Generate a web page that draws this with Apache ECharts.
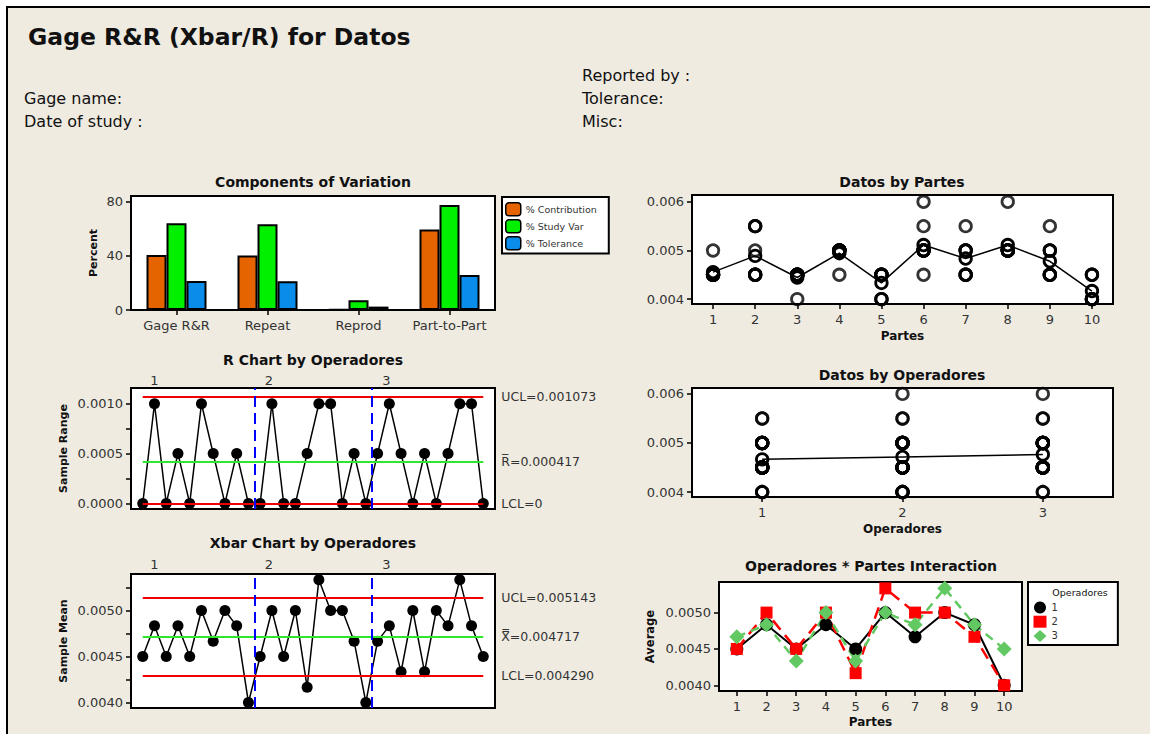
<!DOCTYPE html>
<html><head><meta charset="utf-8">
<script src="https://cdn.jsdelivr.net/npm/echarts@6/dist/echarts.min.js"></script>
<style>html,body{margin:0;padding:0;background:#EFEBE1;overflow:hidden;}#c{width:1170px;height:734px;}</style>
</head><body><div id="c"></div>
<script>
// ---------- data ----------
const componentNames = ['Gage R&R', 'Repeat', 'Reprod', 'Part-to-Part'];
const pctContribution = [40.6, 40.1, 0.5, 59.4];
const pctStudyVar = [64.0, 63.2, 7.1, 77.3];
const pctTolerance = [21.3, 21.1, 2.5, 25.7];
const percentTicks = [0, 40, 80];

const partLabels = ['1', '2', '3', '4', '5', '6', '7', '8', '9', '10'];
const operatorLabels = ['1', '2', '3'];

// three trials per part, for each operator
const op1Trials = [
  [0.0045, 0.0045, 0.0045], [0.0045, 0.0045, 0.0055], [0.0045, 0.0045, 0.0045], [0.0045, 0.005, 0.005],
  [0.0045, 0.0045, 0.0045], [0.0045, 0.005, 0.0055], [0.0045, 0.0045, 0.005], [0.005, 0.005, 0.005],
  [0.0045, 0.005, 0.005], [0.004, 0.004, 0.004]
];
const op2Trials = [
  [0.0045, 0.0045, 0.0045], [0.0045, 0.005, 0.0055], [0.0045, 0.0045, 0.0045], [0.005, 0.005, 0.005],
  [0.004, 0.004, 0.0045], [0.005, 0.005, 0.006], [0.0045, 0.005, 0.0055], [0.005, 0.005, 0.005],
  [0.0045, 0.0045, 0.005], [0.004, 0.004, 0.004]
];
const op3Trials = [
  [0.0045, 0.0045, 0.005], [0.0045, 0.0045, 0.0055], [0.004, 0.0045, 0.0045], [0.005, 0.005, 0.005],
  [0.004, 0.0045, 0.0045], [0.005, 0.005, 0.005], [0.0045, 0.005, 0.005], [0.005, 0.005, 0.006],
  [0.0045, 0.0045, 0.0055], [0.0045, 0.0045, 0.0045]
];

const rLimitValues = [0.001073, 0.000417, 0];
const rLimitLabels = ['UCL=0.001073', 'R\u0305=0.000417', 'LCL=0'];
const rTicks = [0, 0.00025, 0.0005, 0.00075, 0.001];
const rTickLabels = [0, 0.0005, 0.001];

const xbarLimitValues = [0.005143, 0.004717, 0.004290];
const xbarLimitLabels = ['UCL=0.005143', 'X\u033F=0.004717', 'LCL=0.004290'];
const xbarTicks = [0.004, 0.00425, 0.0045, 0.00475, 0.005, 0.00525];
const xbarTickLabels = [0.004, 0.0045, 0.005];

const datosTicks = [0.004, 0.005, 0.006];
const averageTicks = [0.004, 0.0045, 0.005];
const opLabelPositions = [2, 11.75, 21.75];

// ---------- derived summaries ----------
const FONT = '"DejaVu Sans", sans-serif';
const RED = '#F00000', GREEN = '#2EE62E', BLUE = '#0000FF', OP3GREEN = '#62C962';
const mean = a => a.reduce((s, v) => s + v, 0) / a.length;
const spread = a => Math.max(...a) - Math.min(...a);
const allTrials = [op1Trials, op2Trials, op3Trials];
const nParts = partLabels.length;
const subgroupMeans = [], subgroupRanges = [];
allTrials.forEach((op, oi) => op.forEach((tr, pi) => {
  const idx = oi * nParts + pi + 1;
  subgroupMeans.push([idx, mean(tr)]);
  subgroupRanges.push([idx, spread(tr)]);
}));
const nSub = subgroupMeans.length;
const partPoints = [];
partLabels.forEach((p, pi) => allTrials.forEach(op => op[pi].forEach(v => partPoints.push([pi + 1, v]))));
const partMeans = partLabels.map((p, pi) => [pi + 1, mean(allTrials.flatMap(op => op[pi]))]);
const opPoints = [];
allTrials.forEach((op, oi) => op.flat().forEach(v => opPoints.push([oi + 1, v])));
const opMeans = allTrials.map((op, oi) => [oi + 1, mean(op.flat())]);
const interaction = allTrials.map(op => op.map((tr, pi) => [pi + 1, mean(tr)]));
const dividers = operatorLabels.slice(1).map((o, i) => (i + 1) * nParts + 0.5);

// ---------- helpers ----------
const tickStyle = { color: '#000', width: 1.5 };
const labelStyle = { color: '#333', fontSize: 13, fontFamily: FONT };
function gridCfg(left, top, width, height) {
  return { left, top, width, height, show: true, backgroundColor: '#fff', borderColor: '#000', borderWidth: 2, containLabel: false, outerBoundsMode: 'none' };
}
function yAxisCfg(gi, min, max, ticks, labels, fmt, name, nameGap, nameSize) {
  return {
    type: 'value', gridIndex: gi, min, max, splitLine: { show: false },
    axisLine: { show: false, onZero: false },
    axisTick: { show: true, length: 5, customValues: ticks, lineStyle: tickStyle },
    axisLabel: Object.assign({ customValues: labels, formatter: fmt, margin: 8 }, labelStyle),
    name, nameLocation: 'middle', nameGap, nameRotate: 90,
    nameTextStyle: { fontWeight: 'bold', fontSize: nameSize, color: '#111', fontFamily: FONT }
  };
}
function xValueAxis(gi, min, max, ticks, name, nameGap) {
  return {
    type: 'value', gridIndex: gi, min, max, splitLine: { show: false },
    axisLine: { show: false, onZero: false },
    axisTick: { show: true, length: 5, customValues: ticks, lineStyle: tickStyle },
    axisLabel: Object.assign({ customValues: ticks, margin: 9 }, labelStyle),
    name, nameLocation: 'middle', nameGap,
    nameTextStyle: { fontWeight: 'bold', fontSize: 12, color: '#111', fontFamily: FONT }
  };
}
function topOpAxis(gi, margin) {
  return {
    type: 'value', gridIndex: gi, position: 'top', min: 0, max: nSub + 1,
    splitLine: { show: false }, axisLine: { show: false, onZero: false }, axisTick: { show: false },
    axisLabel: Object.assign({
      customValues: opLabelPositions, margin,
      formatter: v => operatorLabels[opLabelPositions.findIndex(p => Math.abs(p - v) < 1e-6)] || ''
    }, labelStyle)
  };
}
function limitSeries(ai, values, labels) {
  const data = values.map((v, i) => [
    { coord: [1, v], lineStyle: { color: i === 1 ? GREEN : RED, width: 2, type: 'solid' },
      label: { show: true, position: 'end', distance: 18, formatter: labels[i], color: '#333', fontSize: 12.5, fontFamily: FONT } },
    { coord: [nSub, v] }
  ]);
  dividers.forEach(d => data.push({ xAxis: d, lineStyle: { color: BLUE, width: 2, type: [11, 6] }, label: { show: false } }));
  return { type: 'line', name: 'lim' + ai, xAxisIndex: ai, yAxisIndex: ai, data: [], silent: true, z: 1,
    markLine: { silent: true, symbol: ['none', 'none'], animation: false, data } };
}
function controlSeries(ai, data) {
  return { type: 'line', name: 'ctl' + ai, xAxisIndex: ai, yAxisIndex: ai, data, z: 3,
    symbol: 'circle', symbolSize: 11, itemStyle: { color: '#000' }, lineStyle: { color: '#000', width: 1.5 } };
}
const openCircle = { color: 'rgba(0,0,0,0)', borderColor: '#000', borderWidth: 2.8 };
function txt(x, y, text, font, align) {
  return { type: 'text', x, y, z: 50, style: { text, font, fill: '#111', textAlign: align || 'center', textVerticalAlign: 'middle' } };
}
const titleFont = 'bold 14px "DejaVu Sans"';

const option = {
  animation: false,
  backgroundColor: '#fff',
  graphic: [
    { type: 'rect', z: -100, shape: { x: 6, y: 6, width: 1200, height: 760 }, style: { fill: '#EFEBE1' } },
    { type: 'line', z: -99, shape: { x1: 6, y1: 7, x2: 1200, y2: 7 }, style: { stroke: '#000', lineWidth: 2 } },
    { type: 'line', z: -99, shape: { x1: 7, y1: 6, x2: 7, y2: 760 }, style: { stroke: '#000', lineWidth: 2 } },
    txt(28, 37, 'Gage R&R (Xbar/R) for Datos', 'bold 23.5px "DejaVu Sans"', 'left'),
    txt(582, 75, 'Reported by :', '16px "DejaVu Sans"', 'left'),
    txt(24, 98, 'Gage name:', '16px "DejaVu Sans"', 'left'),
    txt(582, 98, 'Tolerance:', '16px "DejaVu Sans"', 'left'),
    txt(24, 121, 'Date of study :', '16px "DejaVu Sans"', 'left'),
    txt(582, 121, 'Misc:', '16px "DejaVu Sans"', 'left'),
    txt(313, 182, 'Components of Variation', titleFont),
    txt(313, 360, 'R Chart by Operadores', titleFont),
    txt(313, 543, 'Xbar Chart by Operadores', titleFont),
    txt(902, 182, 'Datos by Partes', titleFont),
    txt(902, 375, 'Datos by Operadores', titleFont),
    txt(871, 566, 'Operadores * Partes Interaction', titleFont),
    txt(1080, 592, 'Operadores', '9.5px "DejaVu Sans"')
  ],
  grid: [
    gridCfg(131, 196, 364, 114),
    gridCfg(131, 388, 364, 121),
    gridCfg(131, 574, 364, 134),
    gridCfg(692, 195, 421, 109),
    gridCfg(692, 388, 421, 109),
    gridCfg(719, 582, 303, 109)
  ],
  xAxis: [
    { type: 'category', gridIndex: 0, data: componentNames, axisLine: { show: false, onZero: false },
      axisTick: { show: true, alignWithLabel: true, length: 5, lineStyle: tickStyle },
      axisLabel: Object.assign({ margin: 9, interval: 0 }, labelStyle) },
    topOpAxis(1, 1),
    topOpAxis(2, 3),
    xValueAxis(3, 0.5, nParts + 0.5, partLabels.map((p, i) => i + 1), 'Partes', 26),
    xValueAxis(4, 0.5, operatorLabels.length + 0.5, operatorLabels.map((o, i) => i + 1), 'Operadores', 26),
    xValueAxis(5, 0.4, nParts + 0.6, partLabels.map((p, i) => i + 1), 'Partes', 25)
  ],
  yAxis: [
    yAxisCfg(0, 0, 84, percentTicks, percentTicks, v => String(v), 'Percent', 32, 11),
    yAxisCfg(1, -0.000056, 0.001158, rTicks, rTickLabels, v => v.toFixed(4), 'Sample Range', 62, 11),
    yAxisCfg(2, 0.00394, 0.005397, xbarTicks, xbarTickLabels, v => v.toFixed(4), 'Sample Mean', 62, 11),
    yAxisCfg(3, 0.0039, 0.00614, datosTicks, datosTicks, v => v.toFixed(3), '', 0, 11),
    yAxisCfg(4, 0.0039, 0.00612, datosTicks, datosTicks, v => v.toFixed(3), '', 0, 11),
    yAxisCfg(5, 0.003921, 0.005421, averageTicks, averageTicks, v => v.toFixed(4), 'Average', 63, 11.5)
  ],
  legend: [
    { left: 502, top: 197, orient: 'vertical', itemWidth: 15, itemHeight: 13, itemGap: 2.5, padding: [5, 12, 3, 3],
      backgroundColor: '#fff', borderColor: '#000', borderWidth: 2, selectedMode: false,
      data: ['% Contribution', '% Study Var', '% Tolerance'],
      itemStyle: { borderColor: '#000', borderWidth: 1.5 },
      textStyle: { fontSize: 9.5, color: '#333', fontFamily: FONT } },
    { left: 1028, top: 582, orient: 'vertical', itemWidth: 13, itemHeight: 12, itemGap: 2.2, padding: [19.5, 60, 3, 5.5],
      backgroundColor: '#fff', borderColor: '#000', borderWidth: 2, selectedMode: false,
      data: [{ name: '1', icon: 'circle' }, { name: '2', icon: 'rect' }, { name: '3', icon: 'diamond' }],
      textStyle: { fontSize: 10, color: '#333', fontFamily: FONT } }
  ],
  series: [
    { type: 'bar', name: '% Contribution', xAxisIndex: 0, yAxisIndex: 0, data: pctContribution, barWidth: 20, barGap: '0%',
      itemStyle: { color: '#E66400', borderColor: '#000', borderWidth: 2 } },
    { type: 'bar', name: '% Study Var', xAxisIndex: 0, yAxisIndex: 0, data: pctStudyVar, barWidth: 20, barGap: '0%',
      itemStyle: { color: '#00F000', borderColor: '#000', borderWidth: 2 } },
    { type: 'bar', name: '% Tolerance', xAxisIndex: 0, yAxisIndex: 0, data: pctTolerance, barWidth: 20, barGap: '0%',
      itemStyle: { color: '#0A8CEB', borderColor: '#000', borderWidth: 2 } },
    limitSeries(1, rLimitValues, rLimitLabels),
    controlSeries(1, subgroupRanges),
    limitSeries(2, xbarLimitValues, xbarLimitLabels),
    controlSeries(2, subgroupMeans),
    { type: 'scatter', name: 'partPts', xAxisIndex: 3, yAxisIndex: 3, data: partPoints, symbol: 'circle', symbolSize: 11.5, itemStyle: openCircle },
    { type: 'line', name: 'partMean', xAxisIndex: 3, yAxisIndex: 3, data: partMeans, symbol: 'circle', symbolSize: 11.5,
      itemStyle: openCircle, lineStyle: { color: '#000', width: 1.5 } },
    { type: 'scatter', name: 'opPts', xAxisIndex: 4, yAxisIndex: 4, data: opPoints, symbol: 'circle', symbolSize: 11.5, itemStyle: openCircle },
    { type: 'line', name: 'opMean', xAxisIndex: 4, yAxisIndex: 4, data: opMeans, symbol: 'circle', symbolSize: 11.5,
      itemStyle: openCircle, lineStyle: { color: '#000', width: 1.5 } },
    { type: 'line', name: '1', xAxisIndex: 5, yAxisIndex: 5, data: interaction[0], symbol: 'circle', symbolSize: 13,
      itemStyle: { color: '#000' }, lineStyle: { color: '#000', width: 2 } },
    { type: 'line', name: '2', xAxisIndex: 5, yAxisIndex: 5, data: interaction[1], symbol: 'rect', symbolSize: 12,
      itemStyle: { color: '#FF0000' }, lineStyle: { color: '#FF0000', width: 2.5, type: [12, 7] } },
    { type: 'line', name: '3', xAxisIndex: 5, yAxisIndex: 5, data: interaction[2], symbol: 'diamond', symbolSize: 15,
      itemStyle: { color: OP3GREEN }, lineStyle: { color: OP3GREEN, width: 2.5, type: [9, 6] } }
  ]
};
const chart = echarts.init(document.getElementById('c'), null, { renderer: 'svg' });
chart.setOption(option);
</script>
</body></html>
